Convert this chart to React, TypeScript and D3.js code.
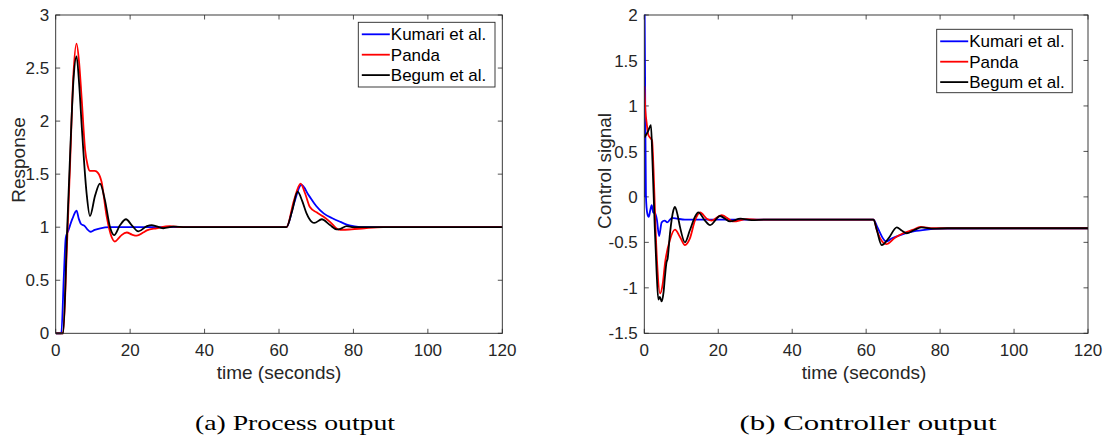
import React from "react";
import * as d3 from "d3";

type Pt = [number, number];

// ---------- data ----------
const seriesNames = ["Kumari et al.", "Panda", "Begum et al."];
const seriesColors = ["#0000ff", "#ff0000", "#000000"];

const xTicks = [0, 20, 40, 60, 80, 100, 120];
const respYTicks = [0, 0.5, 1, 1.5, 2, 2.5, 3];
const ctrlYTicks = [-1.5, -1, -0.5, 0, 0.5, 1, 1.5, 2];

const respKumari: Pt[] = [
  [0, 0], [1.5, 0], [2.2, 0.55], [2.7, 0.9], [3.4, 0.97], [4.5, 1.08], [5.6, 1.155], [6.2, 1.08],
  [6.8, 1.03], [7.8, 1.01], [8.5, 0.98], [9.3, 0.957], [10.5, 0.975], [12, 0.99], [14.5, 1.0],
  [62, 1.0], [64, 1.22], [66, 1.4], [68, 1.3], [70, 1.2], [72, 1.13], [74.6, 1.08], [76.5, 1.05],
  [78.2, 1.025], [80, 1.01], [82, 1.0], [120, 1.0],
];
const respPanda: Pt[] = [
  [0, 0], [2, 0], [3, 0.8], [3.84, 1.57], [4.7, 2.4], [5.6, 2.73], [6.3, 2.55], [7.0, 2.2],
  [7.9, 1.73], [8.6, 1.58], [9.2, 1.53], [10.5, 1.53], [11.4, 1.51], [12.3, 1.43], [13.7, 1.1],
  [15.0, 0.91], [15.9, 0.865], [17.0, 0.9], [17.7, 0.925], [19.1, 0.95], [20.5, 0.93], [21.8, 0.92],
  [23.5, 0.95], [24.5, 0.97], [27.1, 0.99], [30.7, 1.01], [34, 1.0], [62, 1.0], [64, 1.25],
  [65.8, 1.41], [67, 1.32], [68.3, 1.19], [70.1, 1.14], [71.9, 1.1], [73.7, 1.05], [75.9, 0.98],
  [77, 0.975], [79.5, 0.98], [83, 0.99], [88, 1.0], [120, 1.0],
];
const respBegum: Pt[] = [
  [0, 0], [2, 0], [3, 0.9], [4, 1.8], [4.8, 2.4], [5.6, 2.61], [6.3, 2.35], [7.0, 1.95],
  [8.3, 1.32], [9.2, 1.105], [10.6, 1.3], [11.9, 1.41], [13.2, 1.26], [14.6, 1.0], [15.7, 0.925],
  [17.3, 1.02], [18.9, 1.075], [20.4, 1.02], [22.2, 0.96], [24.5, 1.01], [25.8, 1.02], [28.9, 0.99],
  [31.6, 1.005], [35, 1.0], [62, 1.0], [63.5, 1.15], [65.0, 1.335], [66.2, 1.25], [67.4, 1.13],
  [68.8, 1.05], [69.5, 1.04], [71.5, 1.075], [73.7, 1.02], [75.5, 0.98], [76.5, 0.985], [78.2, 1.01],
  [80, 1.0], [120, 1.0],
];

const ctrlKumari: Pt[] = [
  [0, 0], [0.1, 2.0], [0.25, 1.0], [0.45, 0.0], [0.8, -0.18], [1.2, -0.22], [1.6, -0.15], [2.0, -0.09],
  [2.4, -0.17], [2.9, -0.18], [3.4, -0.25], [4.0, -0.43], [4.7, -0.28], [5.5, -0.26], [6.2, -0.28],
  [7.5, -0.23], [9, -0.24], [11, -0.25], [62, -0.25], [63, -0.33], [65.4, -0.49], [67, -0.455],
  [69.2, -0.42], [72.8, -0.38], [76.4, -0.36], [80, -0.35], [120, -0.345],
];
const ctrlPanda: Pt[] = [
  [0, 1.22], [0.3, 0.95], [0.65, 0.81], [1.1, 0.68], [1.8, 0.64], [2.1, 0.62], [2.5, 0.3], [3.0, -0.3],
  [3.5, -0.75], [4.25, -1.06], [5.0, -0.95], [5.6, -0.73], [6.95, -0.47], [8.3, -0.36], [9.65, -0.44],
  [11.0, -0.53], [12.3, -0.46], [13.7, -0.26], [15.1, -0.17], [16.9, -0.24], [18.2, -0.26],
  [20.9, -0.2], [24.1, -0.27], [27.7, -0.245], [31, -0.25], [62, -0.25], [63, -0.38], [65.4, -0.52],
  [67.8, -0.45], [70, -0.4], [72.8, -0.36], [74.6, -0.33], [78.2, -0.345], [82, -0.345], [120, -0.345],
];
const ctrlBegum: Pt[] = [
  [0, 0.65], [1.0, 0.72], [1.8, 0.79], [2.2, 0.4], [2.8, -0.3], [3.3, -0.8], [3.8, -1.13], [4.2, -1.1],
  [4.7, -1.15], [5.2, -1.05], [5.6, -0.87], [6.0, -0.72], [6.3, -0.68], [6.95, -0.4], [7.85, -0.15],
  [8.3, -0.11], [9.0, -0.2], [9.65, -0.33], [11.0, -0.5], [12.3, -0.37], [13.7, -0.22], [14.6, -0.17],
  [16.4, -0.26], [17.8, -0.31], [20.5, -0.21], [23.2, -0.27], [26, -0.24], [29, -0.255], [33, -0.25],
  [62, -0.25], [62.8, -0.35], [64.2, -0.53], [66.0, -0.46], [68.3, -0.335], [69.6, -0.37],
  [71.0, -0.4], [73.2, -0.36], [75.0, -0.335], [78.2, -0.35], [82, -0.345], [120, -0.345],
];

// ---------- styling ----------
const W = 1107;
const H = 441;
const AXIS = "#262626";
const SANS = "'Liberation Sans', Arial, Helvetica, sans-serif";
const SERIF = "'Liberation Serif', 'Times New Roman', serif";

type PanelProps = {
  id: string;
  x0: number; x1: number; y0: number; y1: number;
  yDomain: [number, number];
  yTicks: number[];
  yLabel: string;
  yLabelX: number; yLabelY: number;
  xLabelX: number;
  caption: string; captionX: number; captionW: number;
  series: Pt[][];
  legend: { x: number; y: number; w: number; h: number };
};

function Panel(p: PanelProps) {
  const xs = d3.scaleLinear().domain([0, 120]).range([p.x0, p.x1]);
  const ys = d3.scaleLinear().domain(p.yDomain).range([p.y1, p.y0]);
  const line = d3
    .line<Pt>()
    .x((d) => xs(d[0]))
    .y((d) => ys(d[1]))
    .curve(d3.curveMonotoneX);
  const tl = 4.5;
  return (
    <g>
      <defs>
        <clipPath id={`clip-${p.id}`}>
          <rect x={p.x0} y={p.y0 - 2} width={p.x1 - p.x0} height={p.y1 - p.y0 + 4} />
        </clipPath>
      </defs>
      <rect x={p.x0} y={p.y0} width={p.x1 - p.x0} height={p.y1 - p.y0} fill="#fff" />
      {/* ticks */}
      {xTicks.map((t) => (
        <g key={`xt${t}`}>
          <line x1={xs(t)} x2={xs(t)} y1={p.y1} y2={p.y1 - tl} stroke={AXIS} strokeWidth={0.8} />
          <line x1={xs(t)} x2={xs(t)} y1={p.y0} y2={p.y0 + tl} stroke={AXIS} strokeWidth={0.8} />
          <text x={xs(t)} y={p.y1 + 22.5} textAnchor="middle" fontFamily={SANS} fontSize={17} fill={AXIS}>
            {t}
          </text>
        </g>
      ))}
      {p.yTicks.map((t) => (
        <g key={`yt${t}`}>
          <line x1={p.x0} x2={p.x0 + tl} y1={ys(t)} y2={ys(t)} stroke={AXIS} strokeWidth={0.8} />
          <line x1={p.x1} x2={p.x1 - tl} y1={ys(t)} y2={ys(t)} stroke={AXIS} strokeWidth={0.8} />
          <text x={p.x0 - 6.5} y={ys(t)} dy="0.36em" textAnchor="end" fontFamily={SANS} fontSize={17} fill={AXIS}>
            {String(t)}
          </text>
        </g>
      ))}
      {/* series */}
      <g clipPath={`url(#clip-${p.id})`}>
        {p.series.map((s, i) => (
          <path key={i} d={line(s) || ""} fill="none" stroke={seriesColors[i]} strokeWidth={1.8} strokeLinejoin="round" />
        ))}
      </g>
      {/* frame */}
      <rect x={p.x0} y={p.y0} width={p.x1 - p.x0} height={p.y1 - p.y0} fill="none" stroke={AXIS} strokeWidth={0.9} />
      {/* labels */}
      <text x={p.xLabelX} y={p.y1 + 46} textAnchor="middle" fontFamily={SANS} fontSize={19} fill={AXIS}>
        time (seconds)
      </text>
      <text
        transform={`translate(${p.yLabelX},${p.yLabelY}) rotate(-90)`}
        textAnchor="middle"
        fontFamily={SANS}
        fontSize={19}
        fill={AXIS}
      >
        {p.yLabel}
      </text>
      {/* legend */}
      <rect x={p.legend.x} y={p.legend.y} width={p.legend.w} height={p.legend.h} fill="#fff" stroke={AXIS} strokeWidth={0.9} />
      {seriesNames.map((n, i) => {
        const ry = p.legend.y + 12 + i * 20.4;
        return (
          <g key={n}>
            <line x1={p.legend.x + 3.5} x2={p.legend.x + 31.5} y1={ry} y2={ry} stroke={seriesColors[i]} strokeWidth={1.8} />
            <text x={p.legend.x + 32.5} y={ry} dy="0.36em" fontFamily={SANS} fontSize={17} fill="#000">
              {n}
            </text>
          </g>
        );
      })}
      {/* caption */}
      <text
        x={p.captionX}
        y={430}
        textAnchor="middle"
        fontFamily={SERIF}
        fontSize={21}
        fill="#000"
        textLength={p.captionW}
        lengthAdjust="spacingAndGlyphs"
      >
        {p.caption}
      </text>
    </g>
  );
}

export default function App() {
  return (
    <svg
      width={W}
      height={H}
      viewBox={`0 0 ${W} ${H}`}
      style={{ position: "absolute", left: 0, top: 0, display: "block", background: "#fff" }}
    >
      <rect x={0} y={0} width={W} height={H} fill="#fff" />
      <Panel
        id="a"
        x0={55.7}
        x1={502.3}
        y0={15}
        y1={333.3}
        yDomain={[0, 3]}
        yTicks={respYTicks}
        yLabel="Response"
        yLabelX={25}
        yLabelY={160}
        xLabelX={279}
        caption="(a) Process output"
        captionX={295}
        captionW={200}
        series={[respKumari, respPanda, respBegum]}
        legend={{ x: 358.3, y: 22.3, w: 136.7, h: 64.7 }}
      />
      <Panel
        id="b"
        x0={644.3}
        x1={1088}
        y0={15}
        y1={333.3}
        yDomain={[-1.5, 2]}
        yTicks={ctrlYTicks}
        yLabel="Control signal"
        yLabelX={611}
        yLabelY={171}
        xLabelX={864}
        caption="(b) Controller output"
        captionX={868}
        captionW={257}
        series={[ctrlKumari, ctrlPanda, ctrlBegum]}
        legend={{ x: 936.7, y: 29.3, w: 135.5, h: 63.4 }}
      />
    </svg>
  );
}
